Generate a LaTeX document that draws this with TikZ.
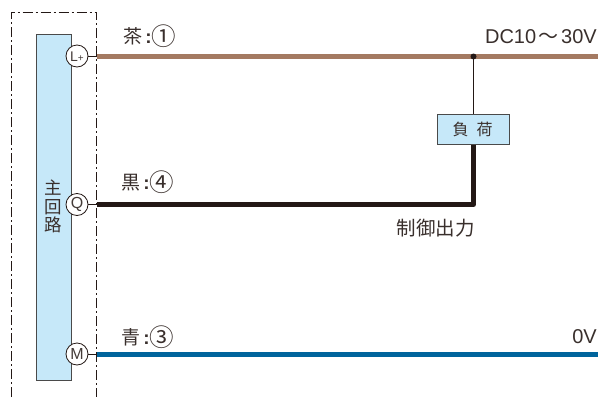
\documentclass[tikz,border=0pt]{standalone}
\usepackage{fontspec}
\setmainfont{Liberation Sans}
\newfontfamily\cjk{Noto Sans CJK JP}
\definecolor{pale}{HTML}{C6E8F9}
\definecolor{brownw}{HTML}{A47A62}
\definecolor{bluew}{HTML}{00649C}
\definecolor{blackw}{HTML}{231815}
\definecolor{edgeg}{HTML}{4A4A4A}
\newcommand{\circnum}[1]{{\fontsize{24.5}{18}\selectfont\raisebox{-1.9pt}{#1}}}
\tikzset{
  x=1pt,y=-1pt,
  enclosure/.style={line width=0.9pt,blackw,dash pattern=on 10pt off 3pt on 2pt off 3pt},
  blockbox/.style={draw=edgeg,line width=0.9pt,fill=pale,rectangle,inner sep=0pt},
  term/.style={circle,draw=blackw,line width=0.8pt,fill=white,minimum size=22pt,inner sep=0pt,font=\fontsize{13}{13}\selectfont,text=blackw!85},
  thinw/.style={line width=0.8pt,blackw},
  powerb/.style={line width=5pt,brownw},
  powerk/.style={line width=5pt,blackw,line join=round},
  powerl/.style={line width=5pt,bluew},
  lab/.style={inner sep=0pt,text=blackw!90,font=\cjk\fontsize{19}{19}\selectfont},
  vlab/.style={inner sep=0pt,text=blackw!90,font=\fontsize{20}{20}\selectfont},
}
\begin{document}
\begin{tikzpicture}
\useasboundingbox (0,0) rectangle (598,397);
\fill[white] (0,0) rectangle (598,397);
\draw[enclosure] (11.5,397) -- (11.5,12) -- (96.5,12) -- (96.5,397);
\node[blockbox,minimum width=35.5pt,minimum height=346pt] (main) at (53.75,207) {};
\node[lab,align=center,font=\cjk\fontsize{17.5}{18.5}\selectfont] (mainlabel) at (53.5,206.5) {主\\回\\路};
\node[term] (lp) at (77,56) {};
\node[inner sep=0pt,text=blackw!85] (lplabel) at (77,56.5) {{\fontsize{14}{14}\selectfont L}{\fontsize{10}{10}\selectfont +}};
\node[term,font=\fontsize{16}{16}\selectfont] (q) at (77,204.5) {Q};
\node[term,font=\fontsize{16}{16}\selectfont] (m) at (77,354) {M};
\coordinate (lpe) at (96.5,56);
\coordinate (qe) at (96.5,204.5);
\coordinate (me) at (96.5,354);
\coordinate (rb) at (598,56);
\coordinate (rm) at (598,354);
\draw[thinw] (lp) -- (lpe);
\draw[thinw] (q) -- (qe);
\draw[thinw] (m) -- (me);
\draw[powerb] (lpe) -- (rb);
\draw[powerl] (me) -- (rm);
\node[blockbox,minimum width=72pt,minimum height=29.5pt] (load) at (473.5,129.5) {};
\node[lab,font=\cjk\fontsize{16}{16}\selectfont] (loadlabel) at (472.5,129.5) {負\hspace{8pt}荷};
\coordinate (jn) at (473.5,56.5);
\coordinate (cr) at (473.5,204.5);
\draw[line width=0.8pt,blackw] (jn) -- (load.north);
\fill[blackw] (jn) circle (3pt);
\draw[powerk] (qe) -- (cr) -- (load.south);
\node[lab,anchor=west] (t1) at (123,36) {茶{\rmfamily\bfseries\,:}\circnum{①}};
\node[lab,anchor=west] (t2) at (121,182) {黒{\rmfamily\bfseries\,:}\circnum{④}};
\node[lab,anchor=west] (t3) at (121,337) {青{\rmfamily\bfseries\,:}\circnum{③}};
\node[vlab,anchor=east] (dc) at (597,37) {DC10\hspace{2.5pt}{\cjk ～}\hspace{2.5pt}30V};
\node[vlab,anchor=east] (zero) at (597,337) {0V};
\node[lab,font=\cjk\fontsize{19.5}{20}\selectfont,anchor=center] (ctl) at (435.5,228) {制御出力};
\end{tikzpicture}
\end{document}
